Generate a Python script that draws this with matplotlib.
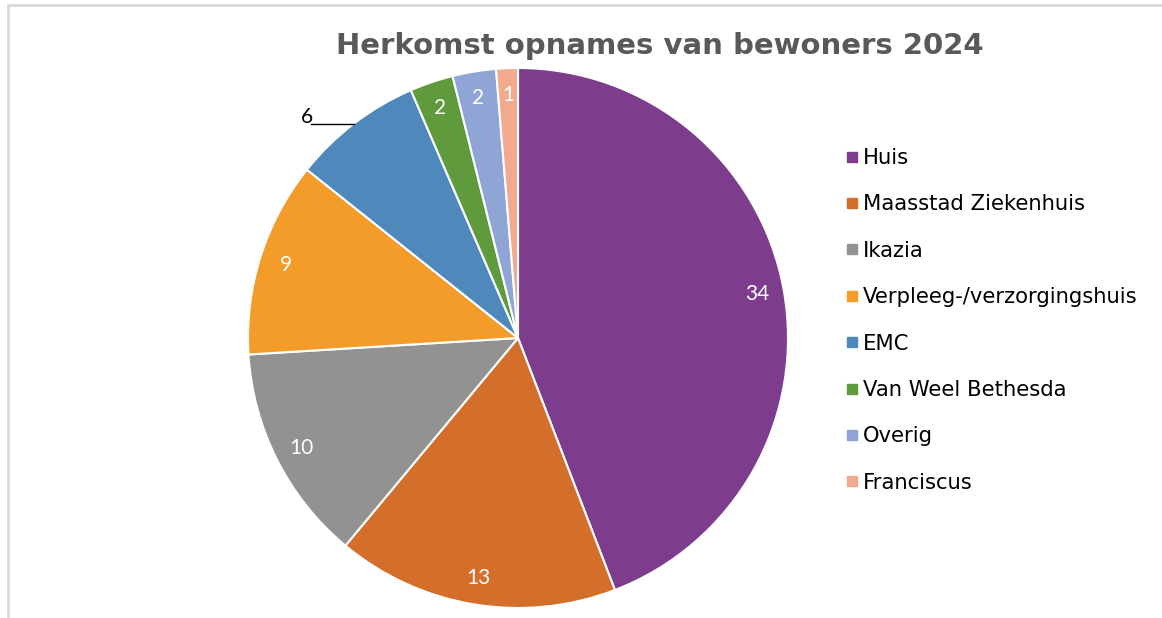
import matplotlib.pyplot as plt
from matplotlib.lines import Line2D
import numpy as np

# data
categories = ['Huis', 'Maasstad Ziekenhuis', 'Ikazia', 'Verpleeg-/verzorgingshuis',
              'EMC', 'Van Weel Bethesda', 'Overig', 'Franciscus']
values = [34, 13, 10, 9, 6, 2, 2, 1]
colors = ['#7E3C8C', '#D36F2B', '#929292', '#F39C29', '#4F89BC', '#5F9A3D', '#8FA5D5', '#F2A98D']
title = 'Herkomst opnames van bewoners 2024'
outside_label = 'EMC'  # label met verbindingslijn buiten de taart

W, H = 1162, 618
fig = plt.figure(figsize=(W / 100, H / 100), dpi=100)

# taart: middelpunt (518, 338) px, straal 270 px
cx, cy, r = 518, 338, 270
ax = fig.add_axes([(cx - r) / W, (H - cy - r) / H, 2 * r / W, 2 * r / H])

total = sum(values)
wedges, texts, autotexts = ax.pie(
    values, colors=colors, startangle=90, counterclock=False, radius=1,
    autopct=lambda p: f'{round(p * total / 100):d}', pctdistance=0.9,
    wedgeprops=dict(edgecolor='white', linewidth=1.5),
    textprops=dict(color='white', fontsize=15, family='Lato'))
ax.set_xlim(-1, 1)
ax.set_ylim(-1, 1)
ax.set_aspect('equal')
ax.axis('off')

# label voor EMC buiten de taart met horizontale lijn
i = categories.index(outside_label)
w = wedges[i]
theta = np.deg2rad((w.theta1 + w.theta2) / 2)
xe, ye = np.cos(theta), np.sin(theta)
autotexts[i].set_visible(False)
ax.plot([xe - 0.16, xe], [ye, ye], color='black', lw=1, clip_on=False)
ax.text(xe - 0.15, ye + 0.002, str(values[i]), color='black', fontsize=15,
        family='Lato', ha='right', va='baseline')

# titel
fig.text(660 / W, 1 - 46 / H, title, ha='center', va='center', fontsize=21,
         fontweight='bold', color='#595959', family='DejaVu Sans')

# legenda
handles = [Line2D([], [], marker='s', linestyle='none', markersize=7,
                  markerfacecolor=c, markeredgecolor=c) for c in colors]
fig.legend(handles, categories, loc='upper left', bbox_to_anchor=(847 / W, 1 - 148 / H),
           frameon=False, handlelength=0.45, handletextpad=0.3,
           labelspacing=1.25, borderpad=0, borderaxespad=0,
           prop=dict(family='DejaVu Sans', size=15.2))

# kader van de grafiek
fig.add_artist(Line2D([8 / W, 1], [1 - 5 / H, 1 - 5 / H], color='#D9D9D9', lw=2))
fig.add_artist(Line2D([8 / W, 8 / W], [0, 1 - 5 / H], color='#D9D9D9', lw=2))

fig.savefig('out.png', dpi=100)
